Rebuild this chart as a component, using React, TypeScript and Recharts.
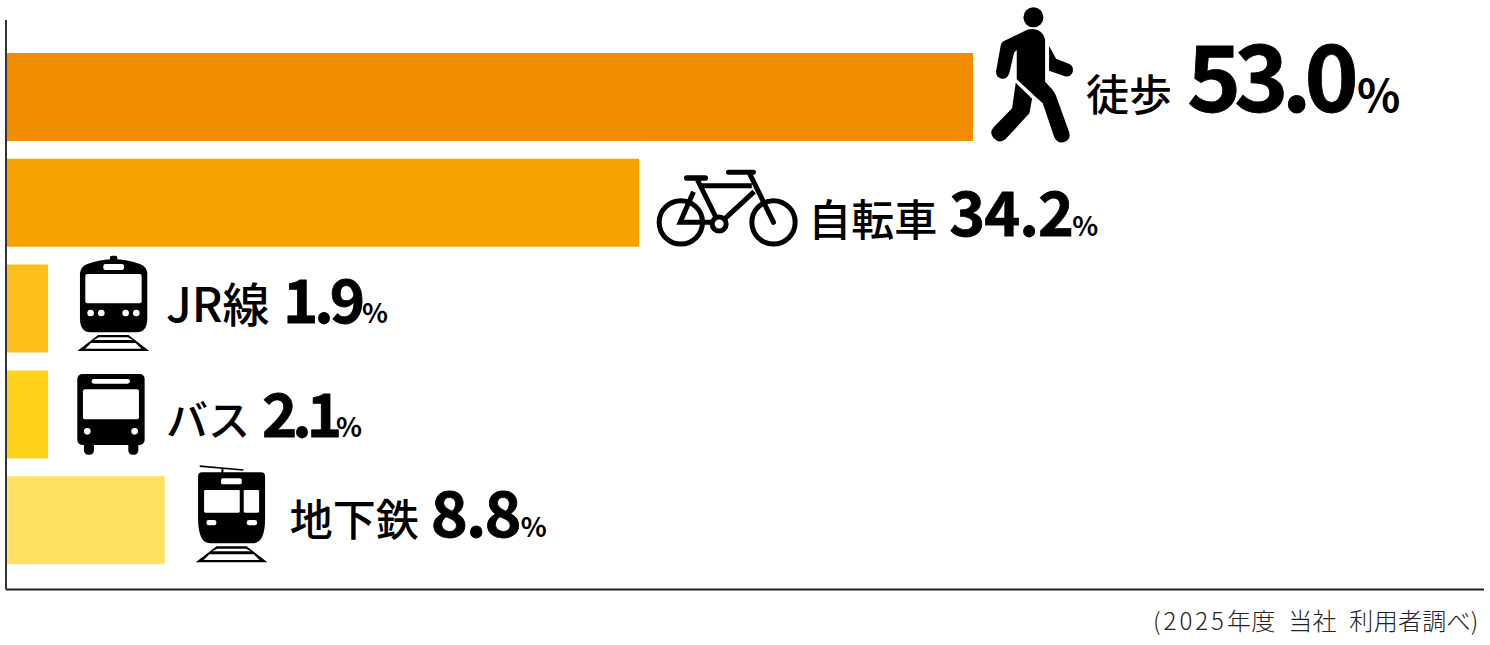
import React from 'react';
import { BarChart, Bar, XAxis, YAxis, Cell, LabelList } from 'recharts';

const CATEGORIES = ['徒歩', '自転車', 'JR線', 'バス', '地下鉄'];
const SHARES = [53.0, 34.2, 1.9, 2.1, 8.8];
// the drawn bars are not quite proportional to the printed shares, these are the lengths as pictured
const BAR_LENGTHS = [53.0, 34.7, 2.3, 2.3, 8.7];
const COLORS = ['#f28c00', '#f5a200', '#fbbe1a', '#ffd319', '#ffe264'];

const FONT = '"Noto Sans CJK JP", "Noto Sans", sans-serif';

const data = CATEGORIES.map((name, i) => ({ name, share: SHARES[i], length: BAR_LENGTHS[i] }));

// Label layout, all relative to the end of the bar
const LABEL_LAYOUT = [
    { nameDx: 113, valueDx: 214, pctDx: 384, nameSize: 43, valueSize: 92, pctSize: 45, baseline: 111, valueBase: 112, spacing: -7 },
    { nameDx: 169, valueDx: 310, pctDx: 433, nameSize: 43, valueSize: 61, pctSize: 27, baseline: 236, valueBase: 236, spacing: -1 },
    { nameDx: 118, valueDx: 235, pctDx: 314, nameSize: 47, valueSize: 60, pctSize: 27, baseline: 322, valueBase: 323, spacing: -4 },
    { nameDx: 118, valueDx: 214, pctDx: 288, nameSize: 42, valueSize: 60, pctSize: 27, baseline: 436, valueBase: 437, spacing: -5 },
    { nameDx: 125, valueDx: 266, pctDx: 356, nameSize: 43, valueSize: 63, pctSize: 27, baseline: 536, valueBase: 537, spacing: -2 },
];

// Icons are traced at 3x, with their origin on the bar end
const Walker = () => (
    <g>
        <circle cx={190} cy={52} r={30} />
        <path d="M170 90 L100 124 Q93 128 92 136 L78 214 Q77 232 95 236 Q112 238 118 218 L132 158 L140 150 L140 238 L193 287 L218 310 L252 410 Q260 430 280 427 Q304 420 297 396 L258 288 Q254 278 246 268 L225 245 L225 118 Q218 90 190 87 Q178 87 170 90 Z" />
        <path d="M137 248 L186 296 L178 340 L106 418 Q88 432 70 414 Q56 396 72 380 L126 325 Z" />
        <path d="M237 138 L258 176 L298 192 Q312 200 308 216 Q300 234 282 228 L237 212 Z" />
    </g>
);

const Bicycle = () => (
    <g fill="none" stroke="#000" strokeWidth={15}>
        <circle cx={122} cy={217} r={65} />
        <circle cx={400} cy={217} r={65} />
        <circle cx={237} cy={222} r={21} />
        <path d="M140 84 L195 84" strokeLinecap="round" strokeWidth={17} />
        <path d="M265 67 L340 67 L328 70 L400 217" strokeLinecap="round" strokeLinejoin="round" />
        <path d="M172 90 L228 203 M178 107 L335 107 M342 125 L255 205 M160 125 L120 217 L215 217" />
    </g>
);

const Tracks = ({ left, right, top, bottom }: { left: number; right: number; top: number; bottom: number }) => {
    const mid = (left + right) / 2;
    const w = right - left;
    return (
        <g>
            <polygon points={`${mid - w * 0.21},${top} ${mid + w * 0.21},${top} ${right},${bottom} ${left},${bottom}`} />
            <polygon fill="#fff" points={`${mid - w * 0.2},${top + 7} ${mid + w * 0.2},${top + 7} ${mid + w * 0.27},${top + 15} ${mid - w * 0.27},${top + 15}`} />
            <polygon fill="#fff" points={`${mid - w * 0.31},${top + 24} ${mid + w * 0.31},${top + 24} ${mid + w * 0.39},${bottom - 7} ${mid - w * 0.39},${bottom - 7}`} />
        </g>
    );
};

const Train = () => (
    <g>
        <rect x={330} y={17} width={22} height={20} rx={6} />
        <path d="M240 70 Q242 50 262 42 Q300 28 341 28 Q382 28 420 42 Q440 50 442 70 L442 205 Q442 247 410 247 L272 247 Q240 247 240 205 Z" />
        <rect x={310} y={42} width={62} height={18} rx={6} fill="#fff" />
        <rect x={256} y={72} width={169} height={88} rx={6} fill="#fff" />
        {[272, 304, 377, 409].map((cx) => <circle key={cx} cx={cx} cy={189} r={10} fill="#fff" />)}
        <Tracks left={232} right={448} top={255} bottom={303} />
    </g>
);

const Bus = () => (
    <g>
        <rect x={252} y={570} width={30} height={44} rx={13} />
        <rect x={385} y={570} width={30} height={44} rx={13} />
        <rect x={232} y={372} width={202} height={213} rx={15} />
        <rect x={275} y={387} width={115} height={14} rx={7} fill="#fff" />
        <rect x={249} y={418} width={168} height={90} rx={6} fill="#fff" />
        <circle cx={262} cy={544} r={10} fill="#fff" />
        <circle cx={404} cy={544} r={10} fill="#fff" />
    </g>
);

const Subway = () => (
    <g>
        <polygon points="150,31 281,43 281,47 150,36" />
        <rect x={215} y={40} width={6} height={16} />
        <path d="M145 64 Q145 52 157 52 L334 52 Q346 52 346 64 L346 190 Q346 265 310 265 L181 265 Q145 265 145 190 Z" />
        <rect x={214} y={70} width={62} height={18} rx={5} fill="#fff" />
        <rect x={163} y={105} width={107} height={68} rx={4} fill="#fff" />
        <rect x={282} y={105} width={46} height={68} rx={4} fill="#fff" />
        <rect x={170} y={195} width={30} height={16} rx={7} fill="#fff" />
        <rect x={291} y={195} width={31} height={16} rx={7} fill="#fff" />
        <Tracks left={138} right={353} top={274} bottom={322} />
    </g>
);

// zoom origin of each trace, relative to the bar end / top of the picture
const ICONS = [
    { Icon: Walker, dx: -3, y: 0 },
    { Icon: Bicycle, dx: 1, y: 150 },
    { Icon: Train, dx: -48, y: 250 },
    { Icon: Bus, dx: -48, y: 250 },
    { Icon: Subway, dx: -15, y: 455 },
];

const RowLabel = (props: any) => {
    const { x, width, index } = props;
    const end = x + width;
    const l = LABEL_LAYOUT[index];
    const { Icon, dx, y } = ICONS[index];
    return (
        <g fontFamily={FONT} fill="#000">
            <g transform={`translate(${end + dx},${y}) scale(${1 / 3})`}>
                <Icon />
            </g>
            <text x={end + l.nameDx} y={l.baseline} fontSize={l.nameSize} fontWeight={500}>{CATEGORIES[index]}</text>
            <text
                x={end + l.valueDx}
                y={l.valueBase}
                fontSize={l.valueSize}
                fontWeight={700}
                letterSpacing={l.spacing}
                stroke="#000"
                strokeWidth={0.8}
            >
                {SHARES[index].toFixed(1)}
            </text>
            <text x={end + l.pctDx} y={l.valueBase} fontSize={l.pctSize} fontWeight={700}>%</text>
        </g>
    );
};

export default function App() {
    return (
        <div style={{ position: 'absolute', left: 0, top: 0, width: 1490, height: 645, background: '#fff' }}>
            <BarChart
                width={1490}
                height={645}
                data={data}
                layout="vertical"
                barSize={88}
                margin={{ top: 20, right: 6, bottom: 54.5, left: 5 }}
            >
                <XAxis type="number" domain={[0, 81]} height={1} tick={false} tickLine={false} axisLine={{ stroke: '#222', strokeWidth: 2 }} />
                <YAxis
                    type="category"
                    dataKey="name"
                    width={1}
                    tick={false}
                    tickLine={false}
                    padding={{ top: 24, bottom: 16.5 }}
                    axisLine={{ stroke: '#333', strokeWidth: 2 }}
                />
                <Bar dataKey="length" isAnimationActive={false}>
                    {data.map((d, i) => <Cell key={d.name} fill={COLORS[i]} />)}
                    <LabelList dataKey="length" content={RowLabel} />
                </Bar>
            </BarChart>
            <div style={{ position: 'absolute', left: 1153, top: 602, fontFamily: FONT, fontSize: 24, fontWeight: 300, color: '#222', whiteSpace: 'pre', lineHeight: '36px', letterSpacing: 0.3 }}>
                <span style={{ letterSpacing: 3 }}>(2025</span>年度<span style={{ letterSpacing: 1 }}>  </span>当社<span style={{ letterSpacing: 1 }}>  </span>利用者調べ)
            </div>
        </div>
    );
}
